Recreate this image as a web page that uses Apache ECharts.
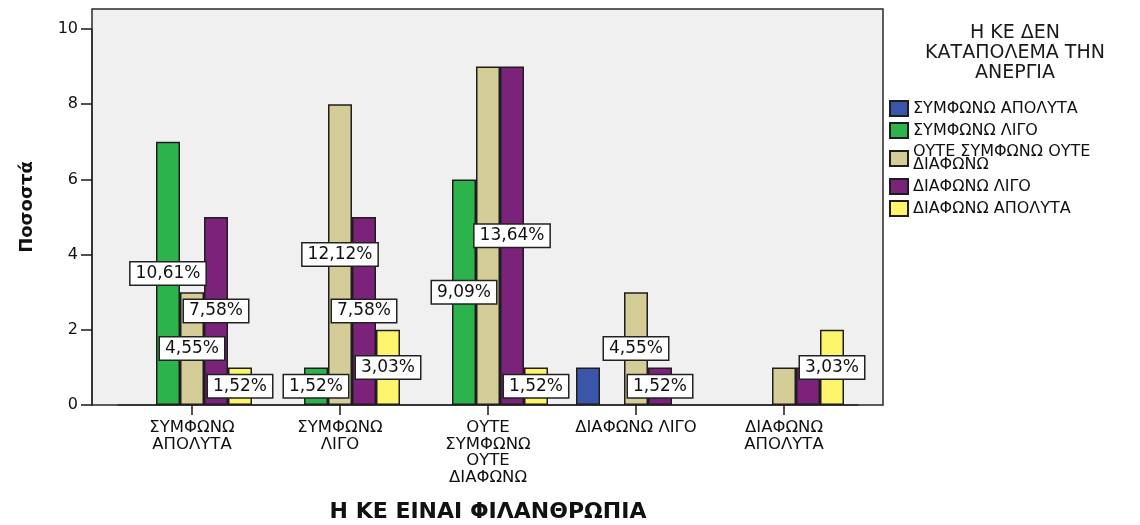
<!DOCTYPE html>
<html>
<head>
<meta charset="utf-8">
<script src="https://cdn.jsdelivr.net/npm/echarts@6/dist/echarts.min.js"></script>
<style>
  html, body { margin: 0; padding: 0; background: #ffffff; }
  #chart { width: 1140px; height: 525px; }
</style>
</head>
<body>
<div id="chart"></div>
<script>
// Categories of the x axis (Η ΚΕ ΕΙΝΑΙ ΦΙΛΑΝΘΡΩΠΙΑ)
const categories = ['ΣΥΜΦΩΝΩ ΑΠΟΛΥΤΑ', 'ΣΥΜΦΩΝΩ ΛΙΓΟ', 'ΟΥΤΕ ΣΥΜΦΩΝΩ ΟΥΤΕ ΔΙΑΦΩΝΩ', 'ΔΙΑΦΩΝΩ ΛΙΓΟ', 'ΔΙΑΦΩΝΩ ΑΠΟΛΥΤΑ'];
const tickLabels = ['ΣΥΜΦΩΝΩ\nΑΠΟΛΥΤΑ', 'ΣΥΜΦΩΝΩ\nΛΙΓΟ', 'ΟΥΤΕ\nΣΥΜΦΩΝΩ\nΟΥΤΕ\nΔΙΑΦΩΝΩ', 'ΔΙΑΦΩΝΩ ΛΙΓΟ', 'ΔΙΑΦΩΝΩ\nΑΠΟΛΥΤΑ'];

// Groups (Η ΚΕ ΔΕΝ ΚΑΤΑΠΟΛΕΜΑ ΤΗΝ ΑΝΕΡΓΙΑ)
const seriesNames = ['ΣΥΜΦΩΝΩ ΑΠΟΛΥΤΑ', 'ΣΥΜΦΩΝΩ ΛΙΓΟ', 'ΟΥΤΕ ΣΥΜΦΩΝΩ ΟΥΤΕ ΔΙΑΦΩΝΩ', 'ΔΙΑΦΩΝΩ ΛΙΓΟ', 'ΔΙΑΦΩΝΩ ΑΠΟΛΥΤΑ'];
const legendLabels = ['ΣΥΜΦΩΝΩ ΑΠΟΛΥΤΑ', 'ΣΥΜΦΩΝΩ ΛΙΓΟ', 'ΟΥΤΕ ΣΥΜΦΩΝΩ ΟΥΤΕ\nΔΙΑΦΩΝΩ', 'ΔΙΑΦΩΝΩ ΛΙΓΟ', 'ΔΙΑΦΩΝΩ ΑΠΟΛΥΤΑ'];

// Counts per category for each group
const symfonoApolyta = [0, 0, 0, 1, 0];
const symfonoLigo    = [7, 1, 6, 0, 0];
const oyteOyte       = [3, 8, 9, 3, 1];
const diafonoLigo    = [5, 5, 9, 1, 1];
const diafonoApolyta = [1, 2, 1, 0, 2];
const seriesValues = [symfonoApolyta, symfonoLigo, oyteOyte, diafonoLigo, diafonoApolyta];

const total = 66; // respondents, base for the percentage labels

// Percentage labels that are left out where they would sit on top of another one
// [group index, category index]
const hiddenLabels = [[0, 3], [2, 2], [2, 4], [3, 4]];

const yTicks = { min: 0, max: 10, interval: 2 };

const colors = ['#3a56a9', '#2cb34b', '#d5cd97', '#7b237b', '#fcf46b'];
const FONT = 'DejaVu Sans';

function isHidden(s, c) {
  return hiddenLabels.some(p => p[0] === s && p[1] === c);
}

const series = seriesNames.map((name, s) => ({
  name: name,
  type: 'bar',
  xAxisIndex: 1,
  yAxisIndex: 1,
  barWidth: 24,
  barGap: '0%',
  itemStyle: { color: colors[s], borderColor: '#1e1e1e', borderWidth: 1.5 },
  label: {
    show: true,
    position: 'inside',
    formatter: p => (p.value / total * 100).toFixed(2).replace('.', ',') + '%',
    fontFamily: FONT,
    fontSize: 17,
    color: '#111',
    backgroundColor: '#ffffff',
    borderColor: '#222',
    borderWidth: 1.5,
    padding: [3, 5, 2, 5]
  },
  data: seriesValues[s].map((v, c) => ({
    value: v,
    // empty cells get no outline on the baseline
    itemStyle: v > 0 ? undefined : { borderWidth: 0 },
    label: { show: v > 0 && !isHidden(s, c) }
  }))
}));

const legendBase = {
  orient: 'vertical',
  left: 884,
  itemWidth: 18,
  itemHeight: 15,
  itemGap: 5,
  icon: 'rect',
  selectedMode: false,
  formatter: name => legendLabels[seriesNames.indexOf(name)],
  textStyle: { fontFamily: FONT, fontSize: 16, lineHeight: 13, color: '#111' }
};

const option = {
  animation: false,
  backgroundColor: '#ffffff',
  title: {
    text: 'Η ΚΕ ΔΕΝ\nΚΑΤΑΠΟΛΕΜΑ ΤΗΝ\nΑΝΕΡΓΙΑ',
    left: 1010,
    top: 18,
    textAlign: 'center',
    textStyle: { fontFamily: FONT, fontSize: 19, fontWeight: 'normal', lineHeight: 20, color: '#1a1a1a' }
  },
  legend: [
    Object.assign({}, legendBase, { top: 95, data: seriesNames.slice(0, 3) }),
    Object.assign({}, legendBase, { top: 173, data: seriesNames.slice(3) })
  ],
  grid: [
    // framed grey plotting panel
    { left: 92, top: 9, width: 791, height: 396, show: true, backgroundColor: '#f0f0f0', borderColor: '#2a2a2a', borderWidth: 1.5, outerBoundsMode: 'none', containLabel: false },
    // area used by the bars
    { left: 118, top: 29, width: 740, height: 376, outerBoundsMode: 'none', containLabel: false }
  ],
  xAxis: [
    { gridIndex: 0, type: 'value', show: false, min: 0, max: 1 },
    {
      gridIndex: 1,
      type: 'category',
      data: categories,
      axisLine: { show: true, lineStyle: { color: '#2a2a2a', width: 1.5 } },
      axisTick: { show: true, alignWithLabel: true, length: 10, lineStyle: { color: '#1a1a1a', width: 1.5 } },
      axisLabel: {
        interval: 0,
        margin: 15,
        fontFamily: FONT,
        fontSize: 16.5,
        lineHeight: 16.4,
        color: '#111',
        formatter: (v, i) => tickLabels[i]
      },
      name: 'Η ΚΕ ΕΙΝΑΙ ΦΙΛΑΝΘΡΩΠΙΑ',
      nameLocation: 'middle',
      nameGap: 96,
      nameTextStyle: { fontFamily: FONT, fontSize: 22, fontWeight: 'bold', color: '#111' }
    }
  ],
  yAxis: [
    {
      // carries only the axis title, centred on the whole panel
      gridIndex: 0,
      type: 'value',
      min: 0,
      max: 1,
      axisLine: { show: false },
      axisTick: { show: false },
      axisLabel: { show: false },
      splitLine: { show: false },
      name: 'Ποσοστά',
      nameLocation: 'middle',
      nameRotate: 90,
      nameGap: 56,
      nameTextStyle: { fontFamily: FONT, fontSize: 18, fontWeight: 'bold', color: '#111' }
    },
    {
      gridIndex: 1,
      type: 'value',
      min: yTicks.min,
      max: yTicks.max,
      interval: yTicks.interval,
      offset: 26,
      axisLine: { show: true, lineStyle: { color: '#2a2a2a', width: 1.5 } },
      axisTick: { show: true, length: 11, lineStyle: { color: '#1a1a1a', width: 1.5 } },
      splitLine: { show: false },
      axisLabel: { margin: 14, fontFamily: FONT, fontSize: 16, color: '#111' }
    }
  ],
  series: series
};

const chart = echarts.init(document.getElementById('chart'), null, { renderer: 'canvas' });
chart.setOption(option);
</script>
</body>
</html>
